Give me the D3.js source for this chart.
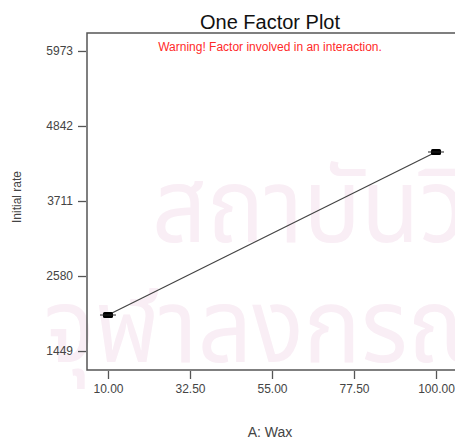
<!DOCTYPE html>
<html>
<head>
<meta charset="utf-8">
<script src="https://cdn.jsdelivr.net/npm/d3@7"></script>
<style>
  html, body { margin: 0; padding: 0; background: #fff; }
  svg { display: block; }
</style>
</head>
<body>
<svg id="chart" width="455" height="441"></svg>
<script>
// Factor levels and predicted responses
const factorLevels = [10, 100];
const initialRate = [1992, 4450];
const xTicks = [10, 32.5, 55, 77.5, 100];
const yTicks = [1449, 2580, 3711, 4842, 5973];
const watermarkLines = ["สถาบันวิทยบริการ", "จุฬาลงกรณ์มหาวิทยาลัย"];

const svg = d3.select("#chart");
const font = "'Liberation Sans', Arial, sans-serif";

const frame = { left: 87, top: 33, right: 457, bottom: 370 };

const x = d3.scaleLinear().domain([4.24, 105.76]).range([frame.left, frame.right]);
const y = d3.scaleLinear().domain([1163, 6244]).range([frame.bottom, frame.top]);

// faint background watermark
const wm = svg.append("g").attr("fill", "#f9eef5")
  .style("font-family", "'Noto Sans Thai', 'Noto Sans', sans-serif");
wm.append("text").attr("transform", "translate(152,242) scale(0.92,1)")
  .attr("font-size", 104).text(watermarkLines[0]);
wm.append("text").attr("transform", "translate(44,362) scale(0.92,1)")
  .attr("font-size", 104).text(watermarkLines[1]);

// frame
svg.append("rect")
  .attr("x", frame.left).attr("y", frame.top)
  .attr("width", frame.right - frame.left).attr("height", frame.bottom - frame.top)
  .attr("fill", "none").attr("stroke", "#555").attr("stroke-width", 1.5);

// y axis
const yAxis = d3.axisLeft(y).tickValues(yTicks).tickSize(8).tickPadding(5)
  .tickFormat(d3.format("d"));
const gy = svg.append("g").attr("transform", `translate(${frame.left - 1},0)`).call(yAxis);
gy.select(".domain").remove();
gy.selectAll("line").attr("stroke", "#555").attr("stroke-width", 1.3);
gy.selectAll("text").attr("fill", "#444").style("font-family", font).style("font-size", "12px");

// x axis
const xAxis = d3.axisBottom(x).tickValues(xTicks).tickSize(8).tickPadding(5)
  .tickFormat(d3.format(".2f"));
const gx = svg.append("g").attr("transform", `translate(0,${frame.bottom + 1})`).call(xAxis);
gx.select(".domain").remove();
gx.selectAll("line").attr("stroke", "#555").attr("stroke-width", 1.3);
gx.selectAll("text").attr("fill", "#444").style("font-family", font).style("font-size", "12px");

// response line
const pts = factorLevels.map((v, i) => [v, initialRate[i]]);
svg.append("path")
  .datum(pts)
  .attr("d", d3.line().x(d => x(d[0])).y(d => y(d[1])))
  .attr("fill", "none").attr("stroke", "#444").attr("stroke-width", 1.2);

// point markers
svg.selectAll(".pt").data(pts).enter().append("rect")
  .attr("class", "pt")
  .attr("x", d => x(d[0]) - 5).attr("y", d => y(d[1]) - 3)
  .attr("width", 10).attr("height", 6).attr("rx", 1.5)
  .attr("fill", "#000");
svg.selectAll(".bar").data(pts).enter().append("line")
  .attr("class", "bar")
  .attr("x1", d => x(d[0]) - 8).attr("x2", d => x(d[0]) + 8)
  .attr("y1", d => y(d[1])).attr("y2", d => y(d[1]))
  .attr("stroke", "#222").attr("stroke-width", 1);

// titles
svg.append("text").attr("x", 270).attr("y", 29).attr("text-anchor", "middle")
  .style("font-family", font).style("font-size", "20px").attr("fill", "#111")
  .text("One Factor Plot");
svg.append("text").attr("x", 270).attr("y", 51).attr("text-anchor", "middle")
  .style("font-family", font).style("font-size", "12px").attr("fill", "#ff2a2a")
  .text("Warning! Factor involved in an interaction.");
svg.append("text").attr("transform", "translate(21,197) rotate(-90)").attr("text-anchor", "middle")
  .style("font-family", font).style("font-size", "12px").attr("fill", "#444")
  .text("Initial rate");
svg.append("text").attr("x", 270).attr("y", 437).attr("text-anchor", "middle")
  .style("font-family", font).style("font-size", "14px").attr("fill", "#444")
  .text("A: Wax");
</script>
</body>
</html>
